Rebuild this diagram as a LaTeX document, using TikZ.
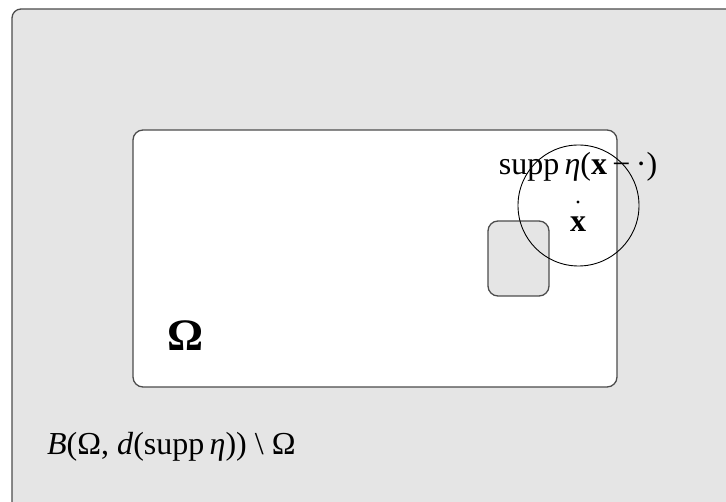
\documentclass[tikz,border=0pt]{standalone}
\usepackage{fontspec}
\setmainfont{Liberation Serif}
\begin{document}
\begin{tikzpicture}[x=1pt,y=-1pt,
  frame/.style={draw=black!70,line width=1.3pt},
  lbl/.style={inner sep=0pt,anchor=base,font=\fontsize{32}{38}\selectfont}]
\useasboundingbox (0,0) rectangle (726,502);
\clip (0,0) rectangle (726,502);
\fill[white] (0,0) rectangle (726,502);
\draw[frame,fill=black!10,rounded corners=9pt] (12,9) rectangle (740,512);
\draw[frame,fill=white,rounded corners=10pt] (133,130) rectangle (617,387);
\draw[frame,fill=black!10,rounded corners=10pt] (488,221) rectangle (549,296);
\node[lbl] (supp) at (578,175) {supp\,\textit{η}(\textbf{x}\,−\,·)};
\draw[black,line width=0.9pt] (578.5,205.5) circle (60.5);
\fill (578,202) circle (1.7pt);
\node[lbl] (x) at (578,232) {\textbf{x}};
\node[lbl,anchor=base west,font=\fontsize{45}{50}\selectfont\bfseries] (om) at (167,351) {Ω};
\node[lbl,anchor=base west] (bd) at (47,455) {\textit{B}(Ω, \textit{d}(supp\,\textit{η}))\ \textbackslash\ Ω};
\end{tikzpicture}
\end{document}
